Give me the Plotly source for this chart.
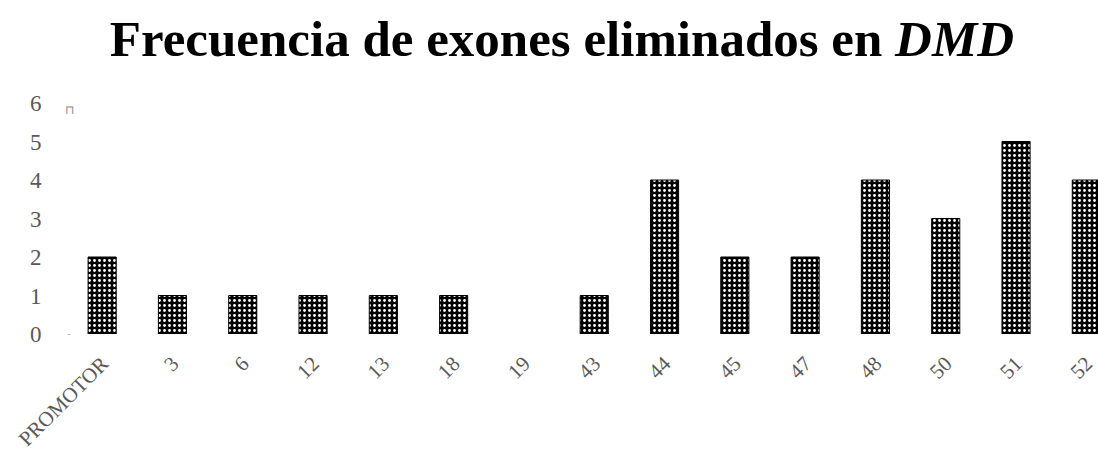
import plotly.graph_objects as go

# Deleted exon frequencies in the DMD gene
exones = ["PROMOTOR", "3", "6", "12", "13", "18", "19", "43", "44", "45",
          "47", "48", "50", "51", "52"]
frecuencia = [2, 1, 1, 1, 1, 1, 0, 1, 4, 2, 2, 4, 3, 5, 4]
y_ticks = [0, 1, 2, 3, 4, 5, 6]

SERIF = "Liberation Serif"
GRIS = "#595959"

fig = go.Figure(
    go.Bar(
        x=list(range(len(exones))),
        y=frecuencia,
        width=0.4,
        marker=dict(
            color="black",
            # no outline on empty categories
            line=dict(color="black", width=[1 if v > 0 else 0 for v in frecuencia]),
            pattern=dict(shape=".", fgcolor="white", bgcolor="black",
                         size=5, solidity=0.24, fillmode="replace"),
        ),
        hoverinfo="x+y",
    )
)

fig.update_layout(
    width=1098,
    height=450,
    margin=dict(l=67, r=0, t=103, b=116),
    paper_bgcolor="white",
    plot_bgcolor="white",
    showlegend=False,
    title=dict(
        text="<b>Frecuencia de exones eliminados en <i>DMD</i></b>",
        x=562 / 1098,
        xanchor="center",
        y=1 - 38 / 450,
        yanchor="middle",
        font=dict(family=SERIF, size=51, color="black"),
    ),
    xaxis=dict(
        range=[-0.5, 14.166],
        tickmode="array",
        tickvals=list(range(len(exones))),
        ticktext=exones,
        tickangle=-45,
        ticks="outside",
        ticklen=8,
        tickcolor="rgba(0,0,0,0)",
        showgrid=False,
        zeroline=False,
        showline=False,
        automargin=False,
        tickfont=dict(family=SERIF, size=21, color=GRIS),
    ),
    yaxis=dict(
        range=[0, 6],
        tickmode="array",
        tickvals=y_ticks,
        ticks="outside",
        ticklen=20,
        tickcolor="rgba(0,0,0,0)",
        showgrid=False,
        zeroline=False,
        showline=False,
        automargin=False,
        tickfont=dict(family=SERIF, size=23, color=GRIS),
    ),
)

# small grey axis marks beside the value axis
fig.add_annotation(x=0, xref="paper", xanchor="center", xshift=2,
                   y=6, yref="y", yanchor="middle", yshift=-7,
                   text="⊓", showarrow=False,
                   font=dict(family=SERIF, size=12, color="#8c8c8c"))
fig.add_annotation(x=0, xref="paper", xanchor="center", xshift=2,
                   y=0, yref="y", yanchor="middle",
                   text="-", showarrow=False,
                   font=dict(family=SERIF, size=12, color="#bfbfbf"))

fig.write_html("out.html")
